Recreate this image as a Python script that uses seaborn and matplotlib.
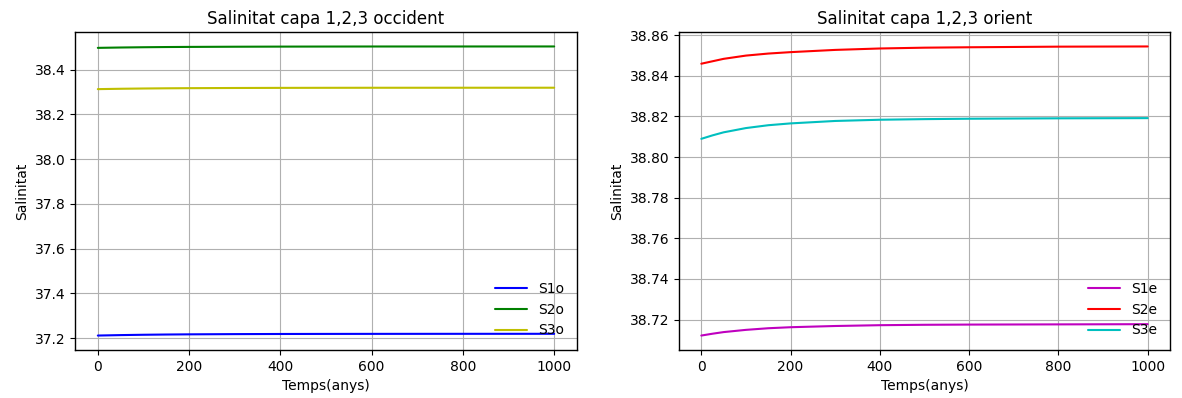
import matplotlib
matplotlib.use("Agg")
import matplotlib.pyplot as plt
import seaborn as sns
import pandas as pd

# Simulation time (years)
temps = [0, 25, 50, 100, 150, 200, 300, 400, 500, 600, 800, 1000]

# West basin salinity, layers 1-3
s1o = [37.2112, 37.2122, 37.2132, 37.2147, 37.2158, 37.2166, 37.2176, 37.2182, 37.2185, 37.2187, 37.2189, 37.2190]
s2o = [38.4975, 38.4983, 38.4991, 38.5003, 38.5012, 38.5018, 38.5026, 38.5031, 38.5034, 38.5036, 38.5037, 38.5038]
s3o = [38.3130, 38.3138, 38.3146, 38.3158, 38.3167, 38.3173, 38.3181, 38.3186, 38.3189, 38.3191, 38.3192, 38.3193]

# East basin salinity, layers 1-3
s1e = [38.7121, 38.7130, 38.7138, 38.7149, 38.7157, 38.7162, 38.7168, 38.7172, 38.7174, 38.7175, 38.7176, 38.7177]
s2e = [38.8460, 38.8472, 38.8484, 38.8500, 38.8510, 38.8517, 38.8528, 38.8535, 38.8539, 38.8541, 38.8544, 38.8545]
s3e = [38.8090, 38.8107, 38.8122, 38.8143, 38.8157, 38.8166, 38.8178, 38.8184, 38.8187, 38.8189, 38.8191, 38.8192]

west_labels = ["S1o", "S2o", "S3o"]
east_labels = ["S1e", "S2e", "S3e"]
west_colors = ["#0000ff", "#008000", "#bfbf00"]
east_colors = ["#bf00bf", "#ff0000", "#00bfbf"]

sns.set_theme(style="ticks")
plt.rcParams.update({
    "font.family": ["DejaVu Sans"],
    "font.size": 10,
    "text.color": "black",
    "axes.labelcolor": "black",
    "axes.edgecolor": "black",
    "axes.linewidth": 1.0,
    "xtick.color": "black",
    "ytick.color": "black",
    "xtick.labelsize": 10,
    "ytick.labelsize": 10,
    "xtick.major.size": 3.5,
    "ytick.major.size": 3.5,
    "xtick.major.width": 0.8,
    "ytick.major.width": 0.8,
    "xtick.major.pad": 3.5,
    "ytick.major.pad": 3.5,
    "axes.labelsize": 10,
    "axes.titlesize": 12,
    "legend.fontsize": 10,
    "legend.handlelength": 2.3,
    "grid.color": "#b0b0b0",
    "grid.linewidth": 0.8,
    "xtick.direction": "out",
    "ytick.direction": "out",
})


def long_frame(series, labels):
    rows = []
    for vals, lab in zip(series, labels):
        for t, v in zip(temps, vals):
            rows.append({"Temps": t, "Salinitat": v, "capa": lab})
    return pd.DataFrame(rows)


fig = plt.figure(figsize=(11.82, 3.98), dpi=100)
ax1 = fig.add_axes([75 / 1182, 48 / 398, 502 / 1182, 318 / 398])
ax2 = fig.add_axes([679 / 1182, 48 / 398, 491 / 1182, 318 / 398])

panels = [
    (ax1, [s1o, s2o, s3o], west_labels, west_colors, "Salinitat capa 1,2,3 occident"),
    (ax2, [s1e, s2e, s3e], east_labels, east_colors, "Salinitat capa 1,2,3 orient"),
]

for ax, series, labels, colors, title in panels:
    df = long_frame(series, labels)
    sns.lineplot(data=df, x="Temps", y="Salinitat", hue="capa",
                 palette=dict(zip(labels, colors)), hue_order=labels,
                 linewidth=1.5, ax=ax)
    ax.set_title(title, color="black")
    ax.set_xlabel("Temps(anys)", color="black")
    ax.set_ylabel("Salinitat", color="black")
    ax.set_xticks([0, 200, 400, 600, 800, 1000])
    ax.grid(True)
    ax.set_axisbelow(True)
    ax.legend(loc="lower right", frameon=False, title=None)
    for s in ax.spines.values():
        s.set_visible(True)
        s.set_color("black")

ax2.set_yticks([38.72, 38.74, 38.76, 38.78, 38.80, 38.82, 38.84, 38.86])

fig.savefig("out.png", dpi=100)
